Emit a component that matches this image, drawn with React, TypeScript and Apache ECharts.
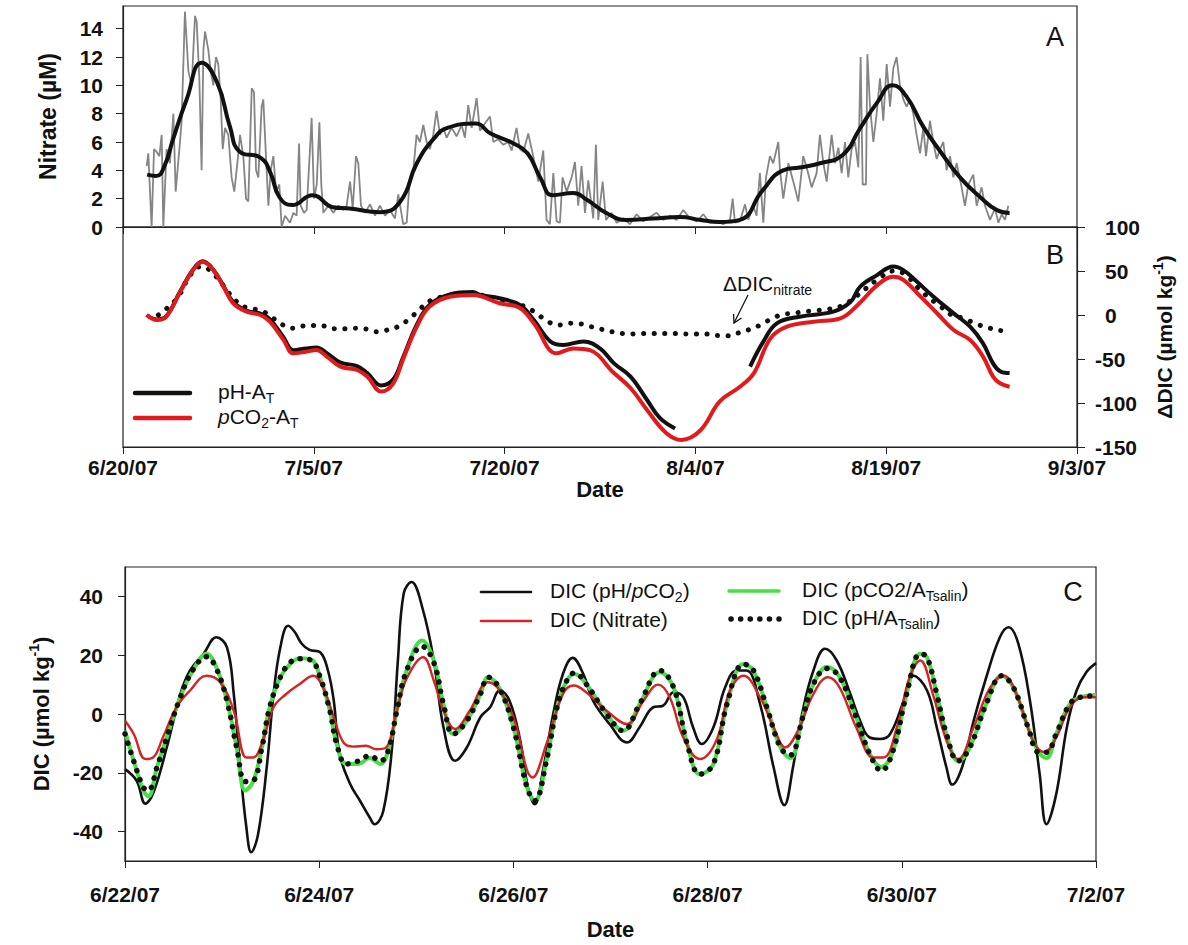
import React, { useEffect, useRef } from 'react';
import * as echarts from 'echarts';

const FF = 'Arial, "Liberation Sans", Helvetica, sans-serif';

// ---------- Panels A & B : x = days since 6/20/07 ----------
const dateLabels = ['6/20/07', '7/5/07', '7/20/07', '8/4/07', '8/19/07', '9/3/07'];
const nitrateTicks = [0, 2, 4, 6, 8, 10, 12, 14];

const nitrateRaw = [
  [1.86, 4.3], [1.99, 5.2], [2.25, 0], [2.44, 5.5], [2.65, 5.3], [2.86, 5.0], [3.04, 6.5], [3.17, 0], [3.43, 5.5], [3.69, 4.5],
  [3.96, 8.0], [4.14, 2.5], [4.48, 6.0], [4.61, 7.5], [4.87, 15.2], [5.14, 11.0], [5.4, 10.0], [5.66, 14.9], [5.79, 14.5], [6.0, 10.5],
  [6.18, 4.0], [6.32, 12.5], [6.45, 13.8], [6.71, 12.5], [6.89, 11.0], [7.1, 10.0], [7.31, 12.0], [7.49, 11.5], [7.68, 9.0], [7.84, 5.5],
  [8.02, 7.0], [8.28, 6.5], [8.54, 3.5], [8.75, 2.5], [8.99, 4.5], [9.2, 6.5], [9.46, 5.0], [9.67, 2.0], [9.85, 1.8], [10.12, 9.8],
  [10.3, 9.5], [10.46, 4.0], [10.64, 3.5], [10.9, 8.5], [11.03, 9.0], [11.24, 5.0], [11.43, 1.5], [11.61, 4.0], [11.82, 5.0], [12.03, 2.5],
  [12.29, 3.0], [12.47, 0], [12.74, 0.8], [13.13, 0.3], [13.39, 1.0], [13.65, 0.8], [13.84, 5.9], [13.97, 1.5], [14.23, 1.0], [14.44, 1.2],
  [14.7, 5.5], [14.83, 7.7], [15.02, 2.0], [15.23, 3.0], [15.44, 7.4], [15.59, 3.0], [15.75, 1.0], [16.14, 1.5], [16.54, 1.0], [16.93, 1.5],
  [17.32, 1.2], [17.58, 1.5], [17.85, 3.2], [18.06, 1.3], [18.32, 5.0], [18.5, 4.5], [18.71, 1.5], [19.03, 1.0], [19.42, 1.6], [19.81, 0.8],
  [20.2, 1.5], [20.6, 0.8], [20.99, 1.2], [21.38, 0.6], [21.64, 2.3], [22.03, 0.2], [22.3, 0.3], [22.56, 3.5], [22.82, 4.0], [23.08, 6.5],
  [23.34, 6.0], [23.61, 7.2], [23.87, 6.0], [24.13, 5.5], [24.39, 6.5], [24.65, 8.2], [24.92, 6.5], [25.18, 7.0], [25.44, 6.3], [25.83, 7.0],
  [26.23, 6.4], [26.62, 7.2], [26.88, 6.3], [27.14, 8.6], [27.41, 7.0], [27.8, 9.1], [28.06, 6.8], [28.45, 7.3], [28.85, 7.8], [29.11, 6.0],
  [29.5, 6.2], [29.9, 5.8], [30.29, 6.0], [30.55, 5.4], [30.94, 7.0], [31.21, 5.5], [31.47, 5.3], [31.86, 6.6], [32.25, 5.0], [32.65, 3.2],
  [33.04, 5.4], [33.3, 0.5], [33.56, 0.2], [33.83, 3.8], [34.09, 0.4], [34.35, 0.3], [34.56, 3.5], [34.88, 2.5], [35.27, 3.5], [35.53, 4.6],
  [35.79, 1.5], [36.05, 4.3], [36.32, 1.0], [36.58, 3.3], [36.97, 0.6], [37.18, 5.8], [37.36, 0.5], [37.71, 3.2], [37.97, 0.5], [38.41, 1.0],
  [38.81, 0.3], [39.33, 0.6], [39.85, 0.2], [40.38, 0.9], [40.9, 0.4], [41.43, 0.7], [41.95, 1.0], [42.47, 0.5], [43.0, 0.8], [43.52, 0.5],
  [44.05, 1.2], [44.57, 0.6], [45.1, 0.4], [45.62, 0.9], [46.14, 0.3], [46.67, 0.4], [47.19, 0.2], [47.72, 0.5], [47.93, 2.0], [48.11, 0.3],
  [48.5, 0.4], [48.9, 1.6], [49.16, 0.5], [49.55, 1.5], [49.81, 0.8], [50.07, 3.8], [50.34, 0.3], [50.55, 3.5], [50.86, 5.0], [51.12, 4.5],
  [51.52, 6.0], [51.65, 4.0], [51.91, 2.0], [52.31, 4.5], [52.7, 3.2], [53.09, 1.8], [53.48, 5.0], [53.75, 4.2], [54.14, 2.8], [54.53, 3.8],
  [54.79, 6.5], [55.06, 4.5], [55.32, 3.2], [55.71, 6.5], [55.97, 4.5], [56.24, 5.6], [56.5, 3.8], [56.76, 6.0], [57.02, 3.5], [57.28, 5.5],
  [57.55, 6.0], [57.81, 4.2], [57.99, 12.0], [58.15, 3.0], [58.41, 3.0], [58.52, 12.2], [58.73, 8.5], [58.99, 6.0], [59.25, 8.0], [59.51, 10.5],
  [59.77, 7.5], [60.04, 11.5], [60.3, 8.5], [60.56, 11.2], [60.82, 12.0], [61.08, 10.0], [61.35, 9.0], [61.61, 8.5], [61.87, 9.0], [62.13, 8.0],
  [62.39, 6.5], [62.66, 5.2], [62.92, 7.0], [63.13, 5.0], [63.44, 7.5], [63.7, 6.0], [63.97, 4.8], [64.23, 5.5], [64.49, 6.0], [64.75, 4.0],
  [65.02, 5.0], [65.28, 3.5], [65.54, 4.5], [65.93, 2.8], [66.19, 1.5], [66.46, 3.0], [66.85, 3.7], [67.11, 1.5], [67.5, 2.8], [67.77, 1.5],
  [68.16, 0.5], [68.55, 1.3], [68.82, 0.3], [69.08, 0.9], [69.34, 0.5], [69.6, 1.5],
];

const nitrateSmooth = [
  [1.9, 3.7], [2.6, 3.6], [3.3, 4.4], [3.9, 6.1], [5.0, 9.0], [6.2, 11.6], [7.4, 10.2], [8.4, 7.1], [9.2, 5.3], [10.8, 4.9],
  [11.6, 3.8], [12.3, 2.1], [13.3, 1.55], [14.9, 2.25], [16.5, 1.4], [17.8, 1.3], [20.2, 1.05], [21.8, 1.8], [23.1, 4.5], [24.4, 6.2],
  [25.5, 7.0], [27.7, 7.3], [28.9, 6.6], [30.7, 5.9], [31.8, 5.2], [32.8, 3.5], [33.8, 2.25], [35.4, 2.4], [36.5, 1.9], [38.0, 0.99],
  [39.6, 0.5], [41.7, 0.6], [43.8, 0.7], [45.4, 0.5], [46.9, 0.35], [48.5, 0.5], [50.3, 2.6], [51.9, 4.0], [53.2, 4.2], [54.8, 4.5],
  [56.6, 5.1], [57.9, 6.9], [59.3, 8.8], [60.5, 10.0], [61.6, 9.2], [62.9, 7.1], [64.2, 5.4], [65.8, 3.5], [67.4, 2.1], [68.7, 1.2],
  [69.7, 0.99],
];

const dicPhAt = [
  [1.86, 0], [2.65, -5], [3.4, -1.5], [4.5, 27], [5.5, 51.5], [6.27, 61], [7.1, 51.5], [7.9, 33], [8.65, 15], [9.7, 5],
  [10.8, 1.5], [11.55, -5], [12.6, -25], [13.4, -40], [14.4, -38], [15.2, -37], [16.0, -43], [17.1, -54], [18.4, -58], [19.2, -66],
  [20.3, -80], [21.25, -73], [22.0, -49], [23.1, -11], [24.1, 11.5], [25.7, 23.5], [27.5, 26], [28.07, 22.7], [29.6, 19], [31.2, 11.4],
  [32.3, -5.7], [33.6, -30], [34.6, -34], [36.2, -30], [37.5, -38], [38.6, -55], [39.9, -70], [41.2, -96.6], [42.2, -117], [43.4, -129],
  [46.0, null],
  [49.3, -58.7], [50.35, -30], [51.4, -9.5], [53.2, -1.9], [55.85, 3.8], [57.2, 15], [57.94, 32], [59.25, 45], [60.56, 55], [61.35, 51],
  [62.4, 38], [63.7, 21], [65.3, 1.9], [66.6, -13.3], [67.6, -32], [68.4, -55], [68.95, -64], [69.7, -66],
];

const dicPco2At = [
  [1.86, 0], [2.65, -5.7], [3.4, -2], [4.5, 26.5], [5.5, 51], [6.27, 60.6], [7.1, 51], [7.9, 32], [8.65, 13.6], [9.7, 3.8],
  [10.8, 0], [11.55, -7.6], [12.6, -28], [13.4, -43.6], [14.4, -41.7], [15.2, -39.8], [16.0, -47], [17.1, -58.7], [18.4, -62.5], [19.2, -70],
  [20.3, -87], [21.25, -77.6], [22.0, -51], [23.1, -13.3], [24.1, 9.5], [25.7, 20.8], [27.5, 22.7], [29.6, 13.3], [31.2, 8], [32.3, -9.5],
  [34.1, -43.6], [35.4, -38], [36.7, -40], [38.6, -66], [39.9, -83], [41.2, -108], [42.7, -134], [43.9, -142], [45.4, -131], [46.9, -98.5],
  [48.5, -81.5], [49.6, -66], [50.9, -26.5], [52.2, -13.3], [54.3, -7.6], [56.4, -3.8], [57.8, 12], [59.3, 34], [60.56, 43.5], [61.35, 40],
  [62.7, 21], [64.0, 2], [65.3, -17], [66.6, -28.4], [67.6, -47], [68.4, -70], [68.95, -77.6], [69.7, -81.5],
];

const dicNitrate = [
  [2.78, 0], [3.56, 9], [4.35, 20.8], [5.27, 45], [6.13, 55], [6.97, 49], [8.94, 15], [9.85, 7.6], [10.77, 5.7], [11.56, -1],
  [12.42, -10], [13.26, -15], [14.12, -12.5], [14.96, -12], [15.8, -12.5], [16.64, -15.5], [17.48, -15.5], [18.3, -15], [19.16, -16], [20.0, -19],
  [20.8, -17], [21.64, -13], [22.5, -4.5], [23.35, 6.8], [24.13, 16], [25.6, 22], [27.3, 24], [29.2, 19], [30.6, 14], [31.61, 9.5],
  [32.52, 1.9], [33.31, -6.8], [34.23, -11.4], [35.09, -9.5], [35.93, -10], [36.72, -13], [37.56, -16], [38.42, -19], [39.29, -21], [40.12, -21.6],
  [40.91, -21], [41.75, -21], [42.61, -21], [43.45, -21], [44.32, -21.6], [45.16, -21.6], [46.02, -21.6], [46.86, -23.5], [47.67, -23.5], [48.51, -19.7],
  [49.35, -16], [50.21, -10.6], [51.05, -3.8], [51.92, 0.8], [52.7, 1.9], [53.54, 3.8], [54.4, 4.9], [55.32, 6.4], [56.11, 8.3], [56.9, 13.3],
  [57.68, 21.6], [59.3, 40], [60.6, 50], [61.5, 46], [62.79, 26.5], [64.36, 8.7], [65.15, 0], [66.06, -3.8], [66.98, -9.5], [67.9, -14],
  [68.74, -17], [69.52, -19],
];

// ---------- Panel C : x = days since 6/22/07 ----------
const cDateLabels = ['6/22/07', '6/24/07', '6/26/07', '6/28/07', '6/30/07', '7/2/07'];
const cTicks = [-40, -20, 0, 20, 40];

const cPhPco2 = [
  [0, -18.75], [0.12, -22.7], [0.21, -30.5], [0.29, -27], [0.43, -11.4], [0.57, 6.8], [0.67, 14.8], [0.81, 20.5], [0.94, 26.1], [1.05, 22.7],
  [1.12, 6.8], [1.18, -15.9], [1.25, -38.6], [1.3, -47], [1.37, -41], [1.46, -18], [1.53, 6.8], [1.6, 22.7], [1.68, 30], [1.75, 27.8],
  [1.82, 23.9], [1.9, 21.8], [2.01, 21], [2.09, 14.8], [2.15, 4.5], [2.21, -13.6], [2.32, -23.9], [2.42, -29.5], [2.52, -35.2], [2.57, -37.5],
  [2.66, -33], [2.75, -11.4], [2.81, 18], [2.87, 41], [2.95, 44.9], [3.07, 35.2], [3.18, 18.2], [3.28, -4.5], [3.4, -15.9], [3.52, -11.4],
  [3.66, -1.1], [3.76, 2.3], [3.86, 8], [3.96, 4.5], [4.07, -9], [4.15, -25], [4.22, -30.7], [4.31, -18.2], [4.41, 0], [4.51, 13.6],
  [4.61, 19.1], [4.72, 13.6], [4.82, 4.5], [4.99, -3.4], [5.17, -9.7], [5.3, -4.5], [5.44, 2.3], [5.54, 2.8], [5.65, 7.4], [5.75, 5.7],
  [5.85, -4.5], [5.94, -10.2], [6.06, -4.5], [6.18, 9], [6.3, 14.8], [6.4, 14.8], [6.54, 3.4], [6.68, -18.2], [6.79, -31], [6.88, -18],
  [6.98, 1.1], [7.09, 14.8], [7.21, 22.2], [7.33, 18.2], [7.47, 6.8], [7.57, -2.3], [7.67, -8], [7.78, -8.5], [7.88, -6.8], [8.02, 4.5],
  [8.12, 13], [8.26, 8], [8.36, -4.5], [8.46, -18.2], [8.52, -24], [8.62, -18.2], [8.74, -2.3], [8.87, 12.5], [9.01, 26.1], [9.1, 29.5],
  [9.2, 23.9], [9.32, 4.5], [9.42, -20.5], [9.49, -37.5], [9.59, -27.3], [9.7, -4.5], [9.8, 8], [9.9, 14.2], [10.0, 17.3],
];

const cNitrate = [
  [0, -2.3], [0.09, -6.8], [0.21, -15.3], [0.29, -14.8], [0.39, -8], [0.53, 2.3], [0.67, 8], [0.84, 13], [0.98, 10.8], [1.12, 1.1],
  [1.25, -14.8], [1.32, -14.8], [1.42, -9], [1.53, 2.3], [1.66, 6.8], [1.8, 10.2], [1.94, 13], [2.04, 9], [2.15, -1.1], [2.25, -9.7],
  [2.35, -11.1], [2.48, -10.8], [2.59, -12], [2.69, -11.4], [2.8, 1.1], [2.9, 12], [3.07, 19.3], [3.18, 11.4], [3.28, 1.1], [3.4, -5.1],
  [3.55, 1.1], [3.74, 10.8], [3.86, 8], [4.0, -1.1], [4.2, -21.6], [4.34, -10.2], [4.51, 6.8], [4.62, 9.7], [4.75, 7.4], [4.96, 1.1],
  [5.17, -3.4], [5.34, 4.5], [5.49, 10], [5.61, 5.7], [5.75, -8], [5.92, -15.3], [6.09, -9], [6.23, 8], [6.37, 13], [6.54, 5.7],
  [6.68, -4.5], [6.8, -11.4], [6.93, -5.7], [7.09, 6.8], [7.24, 12.5], [7.36, 9], [7.53, -4.5], [7.71, -14.8], [7.81, -14.8], [7.95, -4.5],
  [8.08, 12.5], [8.19, 18.2], [8.32, 6.8], [8.46, -9], [8.58, -15.3], [8.74, -4.5], [8.91, 9], [9.05, 13], [9.18, 6.8], [9.35, -9],
  [9.47, -13], [9.59, -8], [9.73, 2.3], [9.87, 5.7], [10.0, 5.7],
];

const cPco2Salin = [
  [0, -5.7], [0.09, -16], [0.19, -26], [0.24, -28], [0.33, -18], [0.43, -8], [0.57, 5.7], [0.7, 14.8], [0.84, 20.5], [0.94, 16],
  [1.05, 4.5], [1.15, -11.4], [1.24, -26], [1.32, -23], [1.41, -11.4], [1.49, 2.3], [1.6, 12.5], [1.7, 17], [1.8, 19], [1.92, 18.5],
  [2.01, 12.5], [2.11, 1.1], [2.18, -10.2], [2.28, -17], [2.4, -17], [2.52, -15], [2.63, -17], [2.71, -12.5], [2.8, 1.1], [2.9, 14.8],
  [3.06, 25], [3.18, 18.2], [3.28, 3.4], [3.38, -6.8], [3.52, -2.3], [3.66, 6.8], [3.74, 12.5], [3.86, 8.5], [4.0, -4.5], [4.14, -25],
  [4.22, -29.5], [4.34, -16], [4.45, 2.3], [4.55, 11.4], [4.63, 13.6], [4.75, 10.2], [4.96, 0], [5.13, -5.7], [5.3, 3.4], [5.51, 14.2],
  [5.65, 9], [5.79, -10.2], [5.92, -20.5], [6.06, -17], [6.2, 3.4], [6.37, 17], [6.47, 14.8], [6.61, 2.3], [6.75, -11.4], [6.85, -15],
  [6.98, -1.1], [7.09, 10.2], [7.23, 16], [7.36, 12.5], [7.53, -1.1], [7.67, -13.6], [7.79, -18], [7.91, -12.5], [8.05, 6.8], [8.19, 20.5],
  [8.26, 19.3], [8.36, 6.8], [8.46, -6.8], [8.58, -16], [8.7, -11.4], [8.87, 3.4], [9.03, 13], [9.15, 9], [9.3, -4.5], [9.41, -13],
  [9.49, -15], [9.59, -6.8], [9.73, 3.4], [9.84, 5.7], [10.0, 6.5],
];

const cPhSalin = [
  [0, -6.8], [0.09, -16], [0.19, -25], [0.24, -26], [0.33, -18], [0.43, -8], [0.57, 5.7], [0.7, 15], [0.84, 19.5], [0.94, 15.5],
  [1.05, 4.5], [1.15, -11.4], [1.24, -23], [1.32, -22.7], [1.41, -11.4], [1.49, 2.3], [1.6, 12.5], [1.7, 17.5], [1.8, 18.8], [1.92, 18.2],
  [2.01, 12.5], [2.11, 1.1], [2.18, -10.2], [2.28, -17], [2.4, -16], [2.52, -14.2], [2.63, -16], [2.71, -12.5], [2.8, 1.1], [2.9, 14.8],
  [3.06, 23], [3.18, 17.5], [3.28, 3.4], [3.38, -6.8], [3.52, -2.3], [3.66, 6.8], [3.74, 12.5], [3.86, 8.5], [4.0, -4.5], [4.14, -25],
  [4.22, -29.5], [4.34, -16], [4.45, 2.3], [4.55, 11.4], [4.63, 14], [4.75, 10.2], [4.96, 0], [5.13, -5.7], [5.3, 3.4], [5.51, 14.8],
  [5.65, 9], [5.79, -10.2], [5.92, -20.5], [6.06, -17], [6.2, 3.4], [6.37, 17], [6.47, 15], [6.61, 2.3], [6.75, -11.4], [6.85, -14],
  [6.98, -1.1], [7.09, 10.2], [7.23, 15.5], [7.36, 12.5], [7.53, -1.1], [7.67, -13.6], [7.79, -19.3], [7.91, -12.5], [8.05, 6.8], [8.19, 20.5],
  [8.26, 19.3], [8.36, 6.8], [8.46, -6.8], [8.58, -16], [8.7, -11.4], [8.87, 3.4], [9.03, 13], [9.15, 9], [9.3, -4.5], [9.41, -13],
  [9.49, -13], [9.59, -6.8], [9.73, 3.4], [9.84, 5.7], [10.0, 6.2],
];

// ---------- styles ----------
const AX = '#222';
const axisLine = { show: true, onZero: false, lineStyle: { color: AX, width: 1.2 } };
const tickLbl = { fontFamily: FF, fontSize: 21, fontWeight: 'bold' as const, color: '#111' };
const titleTxt = { fontFamily: FF, fontSize: 22, fontWeight: 'bold' as const, color: '#111' };
const supRich = {
  sup: { fontFamily: FF, fontSize: 14, fontWeight: 'bold' as const, lineHeight: 14, verticalAlign: 'top' as const, color: '#111' },
};
const legRich = {
  sub: { fontFamily: FF, fontSize: 14, lineHeight: 14, verticalAlign: 'bottom' as const, fill: '#111' },
  i: { fontFamily: FF, fontSize: 21, lineHeight: 28, fontStyle: 'italic' as const, fill: '#111' },
};

const legendText = (x: number, y: number, text: string) => ({
  type: 'text',
  x,
  y,
  style: {
    text,
    fontFamily: FF,
    fontSize: 21,
    lineHeight: 28,
    fill: '#111',
    align: 'left',
    verticalAlign: 'middle',
    rich: legRich,
  },
});

const legendLine = (x1: number, x2: number, y: number, stroke: string, lineWidth: number, lineDash?: number[]) => ({
  type: 'line',
  shape: { x1, y1: y, x2, y2: y },
  style: { stroke, lineWidth, lineDash, lineCap: 'round' },
});

const panelLetter = (x: number, y: number, t: string) => ({
  type: 'text',
  x,
  y,
  style: { text: t, fontFamily: FF, fontSize: 27, fill: '#111', align: 'center', verticalAlign: 'middle' },
});

export default function App() {
  const ref = useRef<HTMLDivElement>(null);

  useEffect(() => {
    if (!ref.current) return;
    const chart = echarts.init(ref.current, undefined, { renderer: 'svg' });

    const option = {
      animation: false,
      backgroundColor: '#fff',
      grid: [
        { left: 123, top: 6, width: 954, height: 221, show: true, borderColor: AX, borderWidth: 1.2 },
        { left: 123, top: 227, width: 954, height: 220, show: true, borderColor: AX, borderWidth: 1.2 },
        { left: 125, top: 567, width: 971, height: 294, show: true, borderColor: AX, borderWidth: 1.2 },
      ],
      xAxis: [
        {
          gridIndex: 0, type: 'value', min: 0, max: 75, interval: 15,
          axisLine, axisTick: { show: true, inside: false, length: 7, lineStyle: { color: AX } },
          axisLabel: { show: false }, splitLine: { show: false },
        },
        {
          gridIndex: 1, type: 'value', min: 0, max: 75, interval: 15,
          axisLine, axisTick: { show: true, inside: false, length: 7, lineStyle: { color: AX } },
          axisLabel: { ...tickLbl, margin: 10, formatter: (v: number) => dateLabels[Math.round(v / 15)] ?? '' },
          splitLine: { show: false },
          name: 'Date', nameLocation: 'middle', nameGap: 29, nameTextStyle: titleTxt,
        },
        {
          gridIndex: 2, type: 'value', min: 0, max: 10, interval: 2,
          axisLine, axisTick: { show: true, inside: false, length: 7, lineStyle: { color: AX } },
          axisLabel: { ...tickLbl, margin: 23, formatter: (v: number) => cDateLabels[Math.round(v / 2)] ?? '' },
          splitLine: { show: false },
          name: 'Date', nameLocation: 'middle', nameGap: 57, nameTextStyle: titleTxt,
        },
      ],
      yAxis: [
        {
          gridIndex: 0, type: 'value', min: 0, max: 15.6,
          axisLine, axisTick: { show: true, inside: false, length: 7, lineStyle: { color: AX }, customValues: nitrateTicks },
          axisLabel: { ...tickLbl, margin: 20, customValues: nitrateTicks },
          splitLine: { show: false },
          name: 'Nitrate (µM)', nameLocation: 'middle', nameRotate: 90, nameGap: 64,
          nameTextStyle: { ...titleTxt, fontSize: 23 },
        },
        {
          gridIndex: 1, type: 'value', position: 'right', min: -150, max: 100, interval: 50,
          axisLine, axisTick: { show: true, inside: false, length: 8, lineStyle: { color: AX } },
          axisLabel: {
            ...tickLbl, margin: 18, align: 'left',
            formatter: (v: number) => (v < 0 ? `${v}` : `{pos|${v}}`),
            rich: { pos: { ...tickLbl, padding: [0, 0, 0, 10] } },
          },
          splitLine: { show: false },
          name: 'ΔDIC (µmol kg{sup|-1})', nameLocation: 'middle', nameRotate: 90, nameGap: 69,
          nameTextStyle: { ...titleTxt, fontSize: 21, lineHeight: 28, rich: supRich },
        },
        {
          gridIndex: 2, type: 'value', min: -50, max: 50,
          axisLine, axisTick: { show: true, inside: false, length: 7, lineStyle: { color: AX }, customValues: cTicks },
          axisLabel: { ...tickLbl, margin: 22, customValues: cTicks },
          splitLine: { show: false },
          name: 'DIC (µmol kg{sup|-1})', nameLocation: 'middle', nameRotate: 90, nameGap: 70,
          nameTextStyle: { ...titleTxt, fontSize: 22, lineHeight: 28, rich: supRich },
        },
      ],
      series: [
        {
          name: 'Nitrate (raw)', type: 'line', xAxisIndex: 0, yAxisIndex: 0, data: nitrateRaw,
          showSymbol: false, symbol: 'none', lineStyle: { color: '#858585', width: 1.8 },
        },
        {
          name: 'Nitrate (smoothed)', type: 'line', xAxisIndex: 0, yAxisIndex: 0, data: nitrateSmooth,
          showSymbol: false, symbol: 'none', smooth: 0.5, lineStyle: { color: '#111', width: 4 },
        },
        {
          name: 'ΔDIC nitrate', type: 'line', xAxisIndex: 1, yAxisIndex: 1, data: dicNitrate,
          showSymbol: false, symbol: 'none', smooth: 0.4,
          lineStyle: { color: '#111', width: 5, type: [0.1, 10.5], cap: 'round' },
        },
        {
          name: 'pH-AT', type: 'line', xAxisIndex: 1, yAxisIndex: 1, data: dicPhAt, connectNulls: false,
          showSymbol: false, symbol: 'none', smooth: 0.4, lineStyle: { color: '#111', width: 4 },
        },
        {
          name: 'pCO2-AT', type: 'line', xAxisIndex: 1, yAxisIndex: 1, data: dicPco2At,
          showSymbol: false, symbol: 'none', smooth: 0.4, lineStyle: { color: '#e31a1c', width: 4 },
        },
        {
          name: 'DIC (pH/pCO2)', type: 'line', xAxisIndex: 2, yAxisIndex: 2, data: cPhPco2,
          showSymbol: false, symbol: 'none', smooth: 0.4, lineStyle: { color: '#111', width: 2.6 },
        },
        {
          name: 'DIC (pCO2/ATsalin)', type: 'line', xAxisIndex: 2, yAxisIndex: 2, data: cPco2Salin,
          showSymbol: false, symbol: 'none', smooth: 0.4, lineStyle: { color: '#45e045', width: 4 },
        },
        {
          name: 'DIC (Nitrate)', type: 'line', xAxisIndex: 2, yAxisIndex: 2, data: cNitrate,
          showSymbol: false, symbol: 'none', smooth: 0.4, lineStyle: { color: '#d42424', width: 2.4 },
        },
        {
          name: 'DIC (pH/ATsalin)', type: 'line', xAxisIndex: 2, yAxisIndex: 2, data: cPhSalin,
          showSymbol: false, symbol: 'none', smooth: 0.4,
          lineStyle: { color: '#111', width: 5.5, type: [0.1, 9.5], cap: 'round' },
        },
      ],
      graphic: [
        panelLetter(1055, 37, 'A'),
        panelLetter(1055, 255, 'B'),
        panelLetter(1073, 592, 'C'),
        // legend B
        legendLine(135, 190, 393, '#111', 4.5),
        legendText(218, 391, 'pH-A{sub|T}'),
        legendLine(135, 190, 418, '#e31a1c', 4.5),
        legendText(218, 416, '{i|p}CO{sub|2}-A{sub|T}'),
        // annotation
        legendText(723, 283, 'ΔDIC{sub|nitrate}'),
        { type: 'line', shape: { x1: 748, y1: 295, x2: 734, y2: 323 }, style: { stroke: '#111', lineWidth: 1.3 } },
        { type: 'polyline', shape: { points: [[741.5, 318], [734, 323], [733.5, 314]] }, style: { stroke: '#111', lineWidth: 1.3, fill: null } },
        // legend C
        legendLine(481, 531, 592, '#111', 2.6),
        legendText(550, 590, 'DIC (pH/{i|p}CO{sub|2})'),
        legendLine(481, 531, 621, '#d42424', 2.6),
        legendText(550, 619, 'DIC (Nitrate)'),
        legendLine(729, 779, 591, '#45e045', 3.5),
        legendText(802, 589, 'DIC (pCO2/A{sub|Tsalin})'),
        legendLine(731, 779, 619, '#111', 5.5, [0.1, 9.5]),
        legendText(802, 617, 'DIC (pH/A{sub|Tsalin})'),
      ],
    };

    chart.setOption(option as any);
    return () => chart.dispose();
  }, []);

  return (
    <div
      ref={ref}
      style={{ position: 'absolute', left: 0, top: 0, width: 1188, height: 945, background: '#fff' }}
    />
  );
}
